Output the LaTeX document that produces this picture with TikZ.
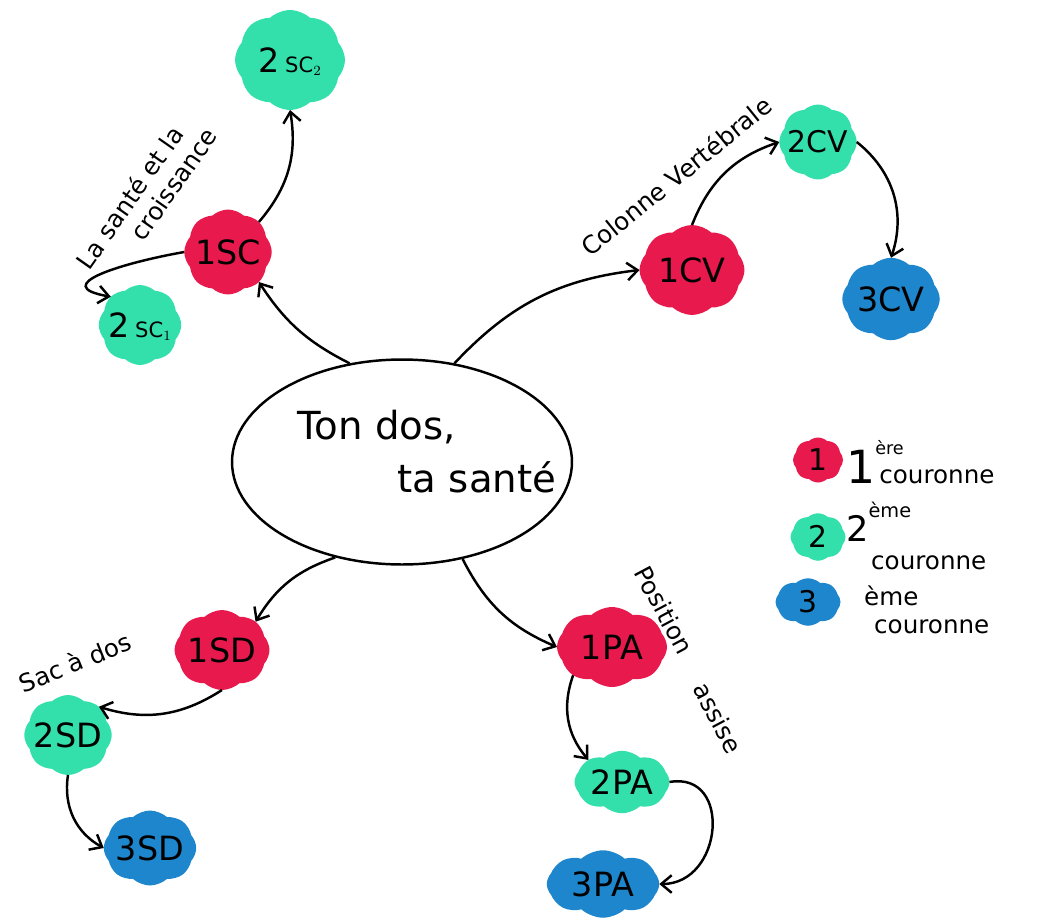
\documentclass[tikz,border=0pt]{standalone}
\usepackage{fontspec}
\setmainfont{DejaVu Sans}
\usetikzlibrary{shapes.symbols,shapes.geometric,arrows.meta}
\definecolor{cred}{HTML}{E8194C}
\definecolor{cgreen}{HTML}{33E0AC}
\definecolor{cblue}{HTML}{1E86CC}
\newcommand{\bl}[1]{\makebox[0pt]{\raisebox{-0.36em}[0pt][0pt]{#1}}}
\tikzset{
  blob/.style={cloud, cloud puffs=8, cloud puff arc=85, inner sep=0pt, outer sep=0pt, font=\fontsize{19}{21}\selectfont},
  red/.style={blob, fill=cred},
  green/.style={blob, fill=cgreen},
  blue/.style={blob, fill=cblue},
  conn/.style={line width=1.4pt, -{Straight Barb[length=6pt,width=10pt,line width=1.4pt]}},
  lab/.style={font=\fontsize{14}{16}\selectfont, align=left},
  leg/.style={font=\fontsize{14}{16}\selectfont, align=left, anchor=west}
}
\begin{document}
\begin{tikzpicture}[x=0.02cm,y=-0.02cm]
\useasboundingbox (0,0) rectangle (1044,923);
% centre
\node[ellipse, draw, line width=1.4pt, minimum width=6.8cm, minimum height=4.1cm, inner sep=0pt, font=\fontsize{22}{30}\selectfont] (c) at (402,462) {\makebox[0pt]{\hspace*{1.0cm}\raisebox{-0.05cm}[0pt][0pt]{\begin{tabular}{@{}l@{}}Ton dos,\\\hspace*{2.0cm}ta santé\end{tabular}}}};
% SC branch
\node[red, minimum width=1.75cm, minimum height=1.7cm] (sc1) at (228,252) {\bl{1SC}};
\node[green, minimum width=2.2cm, minimum height=2.0cm] (sc2b) at (290,60) {\bl{2\,{\fontsize{12}{12}\selectfont SC$_2$}}};
\node[green, minimum width=1.65cm, minimum height=1.6cm] (sc2a) at (140,325) {\bl{2\,{\fontsize{12}{12}\selectfont SC$_1$}}};
% CV branch
\node[red, minimum width=2.1cm, minimum height=1.8cm] (cv1) at (692,270) {\bl{1CV}};
\node[green, minimum width=1.55cm, minimum height=1.5cm, font=\fontsize{17}{19}\selectfont] (cv2) at (818,142) {\bl{2CV}};
\node[blue, minimum width=1.95cm, minimum height=1.65cm] (cv3) at (891,299) {\bl{3CV}};
% SD branch
\node[red, minimum width=1.9cm, minimum height=1.6cm] (sd1) at (222,650) {\bl{1SD}};
\node[green, minimum width=1.75cm, minimum height=1.6cm] (sd2) at (68,735) {\bl{2SD}};
\node[blue, minimum width=1.85cm, minimum height=1.5cm] (sd3) at (150,848) {\bl{3SD}};
% PA branch
\node[red, minimum width=2.2cm, minimum height=1.6cm] (pa1) at (612,647) {\bl{1PA}};
\node[green, minimum width=1.9cm, minimum height=1.25cm] (pa2) at (622,782) {\bl{2PA}};
\node[blue, minimum width=2.25cm, minimum height=1.35cm] (pa3) at (603,884) {\bl{3PA}};
% branch labels
\node[lab, rotate=55] (lsc) at (146,198) {La santé et la\\\hspace*{1.1cm}croissance};
\node[lab, rotate=39] (lcv) at (676,176) {Colonne Vertébrale};
\node[lab, rotate=22] (lsd) at (75,662) {Sac à dos};
\node[lab, rotate=-62] (lpa1) at (664,610) {Position};
\node[lab, rotate=-62] (lpa2) at (718,718) {assise};
% connectors
\draw[conn] (c.118) to[bend left=15] (sc1.south east);
\draw[conn] (sc1.north east) to[bend right=25] (sc2b.south);
\draw[conn] (sc1.west) to[out=190,in=170,looseness=1.9] (sc2a.north west);
\draw[conn] (c.62) to[bend left=20] (cv1.west);
\draw[conn] (cv1.north) to[bend left=25] (cv2.west);
\draw[conn] (cv2.east) to[bend left=35] (cv3.north);
\draw[conn] (c.235) to[bend right=20] (sd1.north east);
\draw[conn] (sd1.south) to[bend left=25] (sd2.north east);
\draw[conn] (sd2.south) to[bend right=35] (sd3.west);
\draw[conn] (c.302) to[bend right=20] (pa1.west);
\draw[conn] (pa1.south west) to[bend right=30] (pa2.north west);
\draw[conn] (pa2.east) to[out=10,in=0,looseness=1.6] (pa3.east);
% legend
\node[red, minimum width=1.0cm, minimum height=0.9cm, font=\fontsize{17}{19}\selectfont] (l1) at (818,460) {\bl{1}};
\node[green, minimum width=1.1cm, minimum height=0.95cm, font=\fontsize{17}{19}\selectfont] (l2) at (818,537) {\bl{2}};
\node[blue, minimum width=1.3cm, minimum height=0.95cm, font=\fontsize{17}{19}\selectfont] (l3) at (808,602) {\bl{3}};
\node[leg] (t1) at (840,462) {{\fontsize{26}{26}\selectfont 1}\rlap{\raisebox{2.2ex}{\fontsize{10}{10}\selectfont ère}}\,couronne};
\node[leg] (t2) at (840,536) {{\fontsize{20}{20}\selectfont 2}\raisebox{1.8ex}{\fontsize{11}{11}\selectfont ème}\\\hspace*{0.5cm}couronne};
\node[leg] (t3) at (858,610) {ème\\\hspace*{0.2cm}couronne};
\end{tikzpicture}
\end{document}
